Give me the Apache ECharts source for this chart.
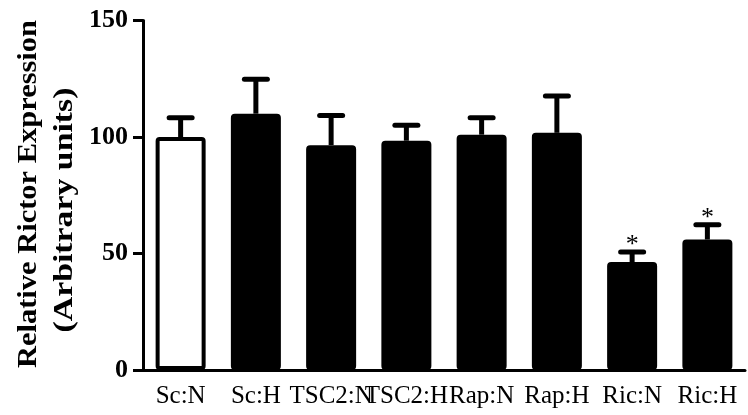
<!DOCTYPE html>
<html>
<head>
<meta charset="utf-8">
<script src="https://cdn.jsdelivr.net/npm/echarts@6/dist/echarts.min.js"></script>
<style>html,body{margin:0;padding:0;background:#fff}#c{width:748px;height:415px}</style>
</head>
<body>
<div id="c"></div>
<script>
const categories = ['Sc:N', 'Sc:H', 'TSC2:N', 'TSC2:H', 'Rap:N', 'Rap:H', 'Ric:N', 'Ric:H'];
const means = [100, 110, 96.5, 98.4, 101, 101.8, 46.3, 56];
const upper = [108.3, 124.8, 109.2, 105, 108.3, 117.6, 50.6, 62.3];
const sig = ['', '', '', '', '', '', '*', '*'];
const fills = ['#ffffff', '#000000', '#000000', '#000000', '#000000', '#000000', '#000000', '#000000'];
const yTicks = [0, 50, 100, 150];
const titleLines = ['Relative Rictor Expression', '(Arbitrary units)'];

const FONT = '"Liberation Serif", "Times New Roman", serif';
function measure(str, font) {
  const c = document.createElement('canvas').getContext('2d');
  c.font = font;
  return c.measureText(str).width;
}
const tFont = 'bold 28px ' + FONT;
const s1 = 348 / measure(titleLines[0], tFont);
const s2 = 245 / measure(titleLines[1], tFont);

const chart = echarts.init(document.getElementById('c'), null, {renderer: 'canvas'});
chart.setOption({
  animation: false,
  backgroundColor: '#fff',
  grid: {left: 143, right: 3, top: 20.5, bottom: 45, containLabel: false},
  xAxis: {
    type: 'category',
    data: categories,
    boundaryGap: true,
    axisLine: {lineStyle: {color: '#000', width: 3}},
    axisTick: {alignWithLabel: true, length: 9, lineStyle: {color: '#000', width: 3}},
    axisLabel: {interval: 0, margin: 14, color: '#000', fontFamily: FONT, fontSize: 25}
  },
  yAxis: {
    type: 'value',
    min: yTicks[0],
    max: yTicks[yTicks.length - 1],
    interval: 50,
    axisLine: {show: true, lineStyle: {color: '#000', width: 3}},
    axisTick: {show: true, length: 10, lineStyle: {color: '#000', width: 3}},
    axisLabel: {margin: 15, color: '#000', fontFamily: FONT, fontSize: 26, fontWeight: 'bold'},
    splitLine: {show: false}
  },
  graphic: [
    {type: 'text', x: 29, y: 194, rotation: Math.PI / 2, scaleX: s1, scaleY: 1,
     style: {text: titleLines[0], font: tFont, fill: '#000', align: 'center', verticalAlign: 'middle'}},
    {type: 'text', x: 65, y: 210, rotation: Math.PI / 2, scaleX: s2, scaleY: 1,
     style: {text: titleLines[1], font: tFont, fill: '#000', align: 'center', verticalAlign: 'middle'}}
  ],
  series: [
    {
      type: 'bar',
      barWidth: 50,
      data: means.map((v, i) => ({value: v, itemStyle: {color: fills[i]}})),
      itemStyle: {borderColor: '#000', borderWidth: 4, borderRadius: 2},
      z: 3
    },
    {
      type: 'custom',
      data: categories.map((c, i) => [i, means[i], upper[i]]),
      renderItem: function (params, api) {
        const i = api.value(0);
        const base = api.coord([i, api.value(1)]);
        const top = api.coord([i, api.value(2)]);
        const children = [
          {type: 'line', shape: {x1: base[0], y1: base[1], x2: top[0], y2: top[1]},
           style: {stroke: '#000', lineWidth: 5}},
          {type: 'line', shape: {x1: top[0] - 11.5, y1: top[1], x2: top[0] + 11.5, y2: top[1]},
           style: {stroke: '#000', lineWidth: 5, lineCap: 'round'}}
        ];
        if (sig[i]) {
          children.push({type: 'text', x: top[0], y: top[1] + 6,
            style: {text: sig[i], font: '26px ' + FONT, fill: '#000', align: 'center', verticalAlign: 'bottom'}});
        }
        return {type: 'group', children: children};
      },
      z: 2
    }
  ]
});
</script>
</body>
</html>
